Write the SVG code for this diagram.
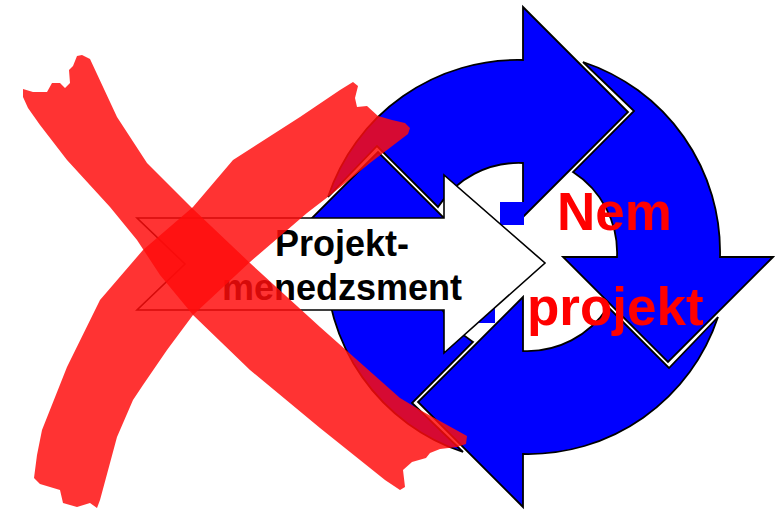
<svg xmlns="http://www.w3.org/2000/svg" width="778" height="510" viewBox="0 0 778 510">
<style>
.blue{fill:#0000FF;stroke:#000;stroke-width:1.8;stroke-linejoin:miter}
.white{fill:#fff;stroke:#000;stroke-width:1.6}
.red{fill:#FF0C0C;fill-opacity:0.84}
.lbl{font-family:"Liberation Sans",Arial,sans-serif;font-weight:bold}
</style>
<defs>
<path id="qarrow" d="M0,-250 L105,-145 L0,-40 L0,-94 A96,96 0 0 0 -85,-50 L-146,-111 L-195,-60 A200,200 0 0 1 0,-197 Z"/>
</defs>
<g id="cycle">
<use href="#qarrow" class="blue" transform="translate(523,257)"/>
<use href="#qarrow" class="blue" transform="translate(523,257) rotate(90)"/>
<use href="#qarrow" class="blue" transform="translate(523,257) rotate(180)"/>
<use href="#qarrow" class="blue" transform="translate(523,257) rotate(270)"/>
</g>
<g id="nem-projekt">
<rect x="500" y="202" width="24" height="23" fill="#0000FF"/>
<rect x="472" y="300" width="23" height="23" fill="#0000FF"/>
<text class="lbl" x="557" y="230" font-size="53" fill="#FF0000">Nem</text>
<text class="lbl" x="527" y="325" font-size="53" fill="#FF0000">projekt</text>
</g>
<g id="pm-arrow">
<path class="white" d="M137,218 L444,218 L444,175 L545,263 L444,353 L444,310 L137,310 L185,264 Z"/>
<text class="lbl" x="342" y="256" font-size="36" fill="#000" text-anchor="middle">Projekt-</text>
<text class="lbl" x="342" y="300" font-size="36" fill="#000" text-anchor="middle">menedzsment</text>
</g>
<g id="cross">
<polygon class="red" points="23,89 33,92 47,92 52,83 60,83 65,88 70,83 69,70 73,66 77,56 82,55 90,59 117,117 147,163 192,208 250,263 320,327 400,398 420,410 467,436 466,444 457,447 440,449 430,453 426,458 412,462 403,470 405,487 400,490 385,480 320,428 250,370 193,315 160,275 137,240 110,207 67,160 40,125 28,108 23,97"/>
<polygon class="red" points="353,82 358,86 355,98 357,107 367,106 378,116 392,120 405,123 410,128 408,134 370,163 333,193 307,213 250,262 193,315 167,350 143,385 133,400 117,437 110,463 100,500 97,508 90,503 77,507 63,503 60,490 50,487 40,484 34,478 37,455 42,430 67,367 100,300 143,250 193,207 233,160 300,117 340,90"/>
</g>
</svg>
